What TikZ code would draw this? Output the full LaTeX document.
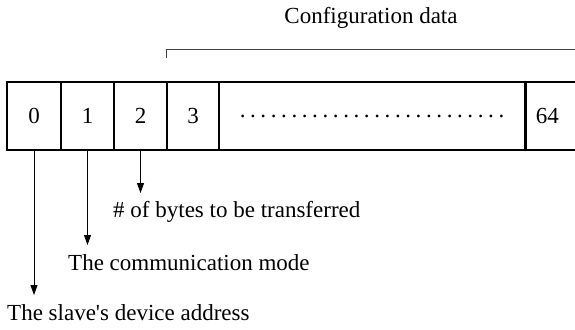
\documentclass[tikz,border=0pt]{standalone}
\usepackage{fontspec}
\setmainfont{Liberation Serif}
\usetikzlibrary{arrows.meta}
\begin{document}
\begin{tikzpicture}[x=1pt,y=-1pt,
  font=\fontsize{23}{27}\selectfont,
  cell/.style={draw, line width=1.6pt, inner sep=0pt, minimum height=68pt},
  pointer/.style={line width=0.9pt, -{Triangle[length=10pt,width=7pt]}},
  bracketline/.style={line width=1pt, draw=black!75},
  caption/.style={anchor=west, inner sep=0pt}]
\useasboundingbox (0,0) rectangle (575,329);
% the frame of 65 byte cells
\node[cell, minimum width=54pt] (c0) at (34,116) {0};
\node[cell, minimum width=53pt] (c1) at (87.5,116) {1};
\node[cell, minimum width=53pt] (c2) at (140.5,116) {2};
\node[cell, minimum width=52pt] (c3) at (193,116) {3};
\node[cell, minimum width=306pt] (cdots) at (372,116)
  {\frenchspacing\spaceskip=4.6pt plus 0pt minus 0pt\xspaceskip=4.6pt . . . . . . . . . . . . . . . . . . . . . . . . . .};
\node[cell, anchor=west, text width=60pt, align=left, inner xsep=10pt] (c64) at (525,116) {64};
% bracket over the configuration bytes
\coordinate (bend) at (c3.north west |- 0,50);
\coordinate (bstart) at (c3.north west |- 0,58);
\coordinate (bright) at (580,50);
\draw[bracketline] (bstart) -- (bend) -- (bright);
\node (conf) at (371,18) {Configuration data};
% field descriptions
\node[caption] (lbytes) at (113,212) {\# of bytes to be transferred};
\node[caption] (lmode) at (68,263) {The communication mode};
\node[caption] (laddr) at (7,313) {The slave\textquotesingle s device address};
\coordinate (a2) at (c2.south |- 0,193);
\coordinate (a1) at (c1.south |- 0,245);
\coordinate (a0) at (c0.south |- 0,295);
\draw[pointer] (c2.south) -- (a2);
\draw[pointer] (c1.south) -- (a1);
\draw[pointer] (c0.south) -- (a0);
\end{tikzpicture}
\end{document}
